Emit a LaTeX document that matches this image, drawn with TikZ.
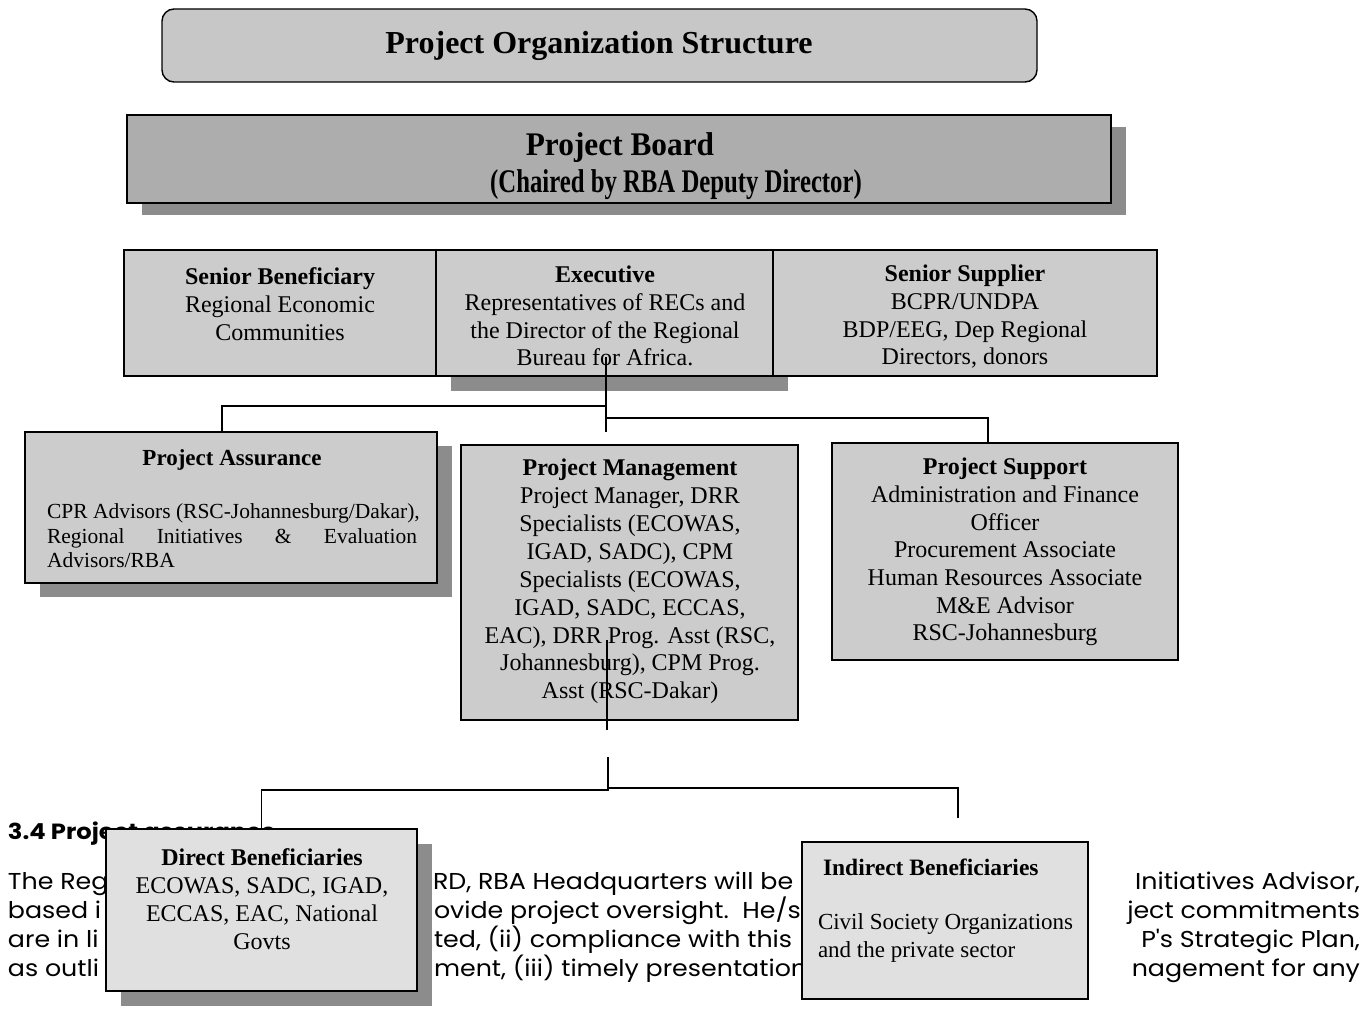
\documentclass[tikz,border=0pt]{standalone}
\usepackage{fontspec}
\setmainfont{Liberation Serif}
\newfontfamily\gothic[FakeStretch=1.1]{Poppins}
\newfontfamily\boardA[FakeStretch=0.95]{Liberation Serif}
\newfontfamily\boardB[FakeStretch=0.75]{Liberation Serif}
\usetikzlibrary{calc}
\definecolor{titlefill}{gray}{0.78}
\definecolor{boardfill}{gray}{0.68}
\definecolor{shadowfill}{gray}{0.55}
\definecolor{boxfill}{gray}{0.80}
\definecolor{lightfill}{gray}{0.88}
\begin{document}
\begin{tikzpicture}[x=1pt,y=-1pt,
  every node/.style={inner sep=0pt, outer sep=0pt},
  frame/.style={draw=black, line width=1.4pt, fill=boxfill, anchor=north west},
  shade/.style={fill=shadowfill, anchor=north west},
  body/.style={font=\fontsize{24}{27.7}\selectfont, align=center, anchor=north},
  bgtext/.style={font=\gothic\fontsize{23}{27}\selectfont, text=black},
  conn/.style={draw=black, line width=1.5pt}]
\useasboundingbox[fill=white] (0,0) rectangle (1370,1014);

% ---- background page text (partly hidden) ----
\node[bgtext, anchor=base west, font=\gothic\bfseries\fontsize{22}{26}\selectfont] (h34) at (8,839) {3.4 Project assurance};
\node[bgtext, anchor=base west] (l1a) at (8,889) {The Reg};
\node[bgtext, anchor=base west] (l2a) at (8,918) {based i};
\node[bgtext, anchor=base west] (l3a) at (8,947) {are in li};
\node[bgtext, anchor=base west] (l4a) at (8,976) {as outli};
\node[bgtext, anchor=base west] (l1b) at (433,889) {RD, RBA Headquarters will be};
\node[bgtext, anchor=base west] (l2b) at (434,918) {ovide project oversight.\ \ He/sh};
\node[bgtext, anchor=base west] (l3b) at (434,947) {ted, (ii) compliance with this};
\node[bgtext, anchor=base west] (l4b) at (434,976) {ment, (iii) timely presentation};
\node[bgtext, anchor=base east] (l1c) at (1360,889) {Initiatives Advisor,};
\node[bgtext, anchor=base east] (l2c) at (1360,918) {ject commitments};
\node[bgtext, anchor=base east] (l3c) at (1360,947) {P's Strategic Plan,};
\node[bgtext, anchor=base east] (l4c) at (1360,976) {nagement for any};

% ---- title ----
\node[frame, fill=titlefill, rounded corners=12pt, minimum width=875, minimum height=73] (titlebox) at (162,9) {};
\node[font=\bfseries\fontsize{32}{36}\selectfont] (titletext) at (599,46) {Project Organization Structure};

% ---- project board ----
\node[shade, minimum width=984, minimum height=88] (boardsh) at (142,127) {};
\node[frame, fill=boardfill, minimum width=984, minimum height=88] (board) at (127,115) {};
\node[font=\boardA\bfseries\fontsize{33}{36}\selectfont] (board1) at (620,148) {Project Board};
\node[font=\boardB\bfseries\fontsize{33}{36}\selectfont] (board2) at (676,185) {(Chaired by RBA Deputy Director)};

% ---- board members ----
\node[shade, minimum width=337, minimum height=126] (execsh) at (451,265) {};
\node[frame, minimum width=312, minimum height=126] (senben) at (124,250) {};
\node[frame, minimum width=337, minimum height=126] (exec) at (436,250) {};
\node[frame, minimum width=384, minimum height=126] (sensup) at (773,250) {};
\node[body] (senbentxt) at (280,268) {\textbf{Senior Beneficiary}\\Regional Economic\\Communities};
\node[body] (exectxt) at (605,266) {\textbf{Executive}\\Representatives of RECs and\\the Director of the Regional\\Bureau for Africa.};
\node[body] (sensuptxt) at (965,265) {\textbf{Senior Supplier}\\BCPR/UNDPA\\BDP/EEG, Dep Regional\\Directors, donors};

% ---- second level ----
\node[shade, minimum width=412, minimum height=151] (pash) at (40,446) {};
\node[frame, minimum width=412, minimum height=151] (pa) at (25,432) {};
\node[frame, minimum width=337, minimum height=275] (pm) at (461,445) {};
\node[frame, minimum width=346, minimum height=217] (ps) at (832,443) {};
\node[font=\bfseries\fontsize{23}{27}\selectfont] (patitle) at (232,460) {Project Assurance};
\node[font=\fontsize{21.5}{24.5}\selectfont, align=left, anchor=north west] (patxt) at (47,504)
  {CPR Advisors (RSC-Johannesburg/Dakar),\\\makebox[370pt][s]{Regional Initiatives \& Evaluation}\\Advisors/RBA};
\node[body, font=\fontsize{24}{27.9}\selectfont] (pmtxt) at (630,459) {\textbf{Project Management}\\Project Manager, DRR\\Specialists (ECOWAS,\\IGAD, SADC), CPM\\Specialists (ECOWAS,\\IGAD, SADC, ECCAS,\\EAC), DRR Prog. Asst (RSC,\\Johannesburg), CPM Prog.\\Asst (RSC-Dakar)};
\node[body] (pstxt) at (1005,458) {\textbf{Project Support}\\Administration and Finance\\Officer\\Procurement Associate\\Human Resources Associate\\M\&E Advisor\\RSC-Johannesburg};

% ---- beneficiaries ----
\node[shade, minimum width=311, minimum height=162] (dbsh) at (121,844) {};
\node[frame, fill=lightfill, minimum width=311, minimum height=162] (db) at (106,829) {};
\node[frame, fill=lightfill, minimum width=286, minimum height=157] (ib) at (802,842) {};
\node[body] (dbtxt) at (262,849) {\textbf{Direct Beneficiaries}\\ECOWAS, SADC, IGAD,\\ECCAS, EAC, National\\Govts};
\node[font=\bfseries\fontsize{23.5}{28}\selectfont, anchor=north west] (ibtitle) at (823,859) {Indirect Beneficiaries};
\node[font=\fontsize{23}{28}\selectfont, align=left, anchor=north west] (ibtxt) at (818,914) {Civil Society Organizations\\and the private sector};

% ---- connectors ----
\coordinate (e1) at ($(exec.south)+(1.5,-19)$);
\coordinate (e2) at (e1 |- 0,432);
\coordinate (jl) at (e1 |- 0,406);
\coordinate (jr) at (e1 |- 0,418);
\coordinate (pal) at (222,406);
\coordinate (psr) at (988,418);
\draw[conn] (e1) -- (e2);
\draw[conn] (jl) -- (pal) -- (pal |- pa.north);
\draw[conn] (jr) -- (psr) -- (psr |- ps.north);

\coordinate (m1) at (607,640);
\coordinate (m2) at (m1 |- 0,730);
\coordinate (k1) at (608,757);
\coordinate (k2) at (608,790);
\coordinate (k3) at (608,788);
\coordinate (dbl) at (db.north |- k2);
\coordinate (ibr) at (958,788);
\coordinate (ibend) at (958,818);
\draw[conn] (m1) -- (m2);
\draw[conn] (k1) -- (k2) -- (dbl) -- (db.north);
\draw[conn] (k3) -- (ibr) -- (ibend);
\end{tikzpicture}
\end{document}
